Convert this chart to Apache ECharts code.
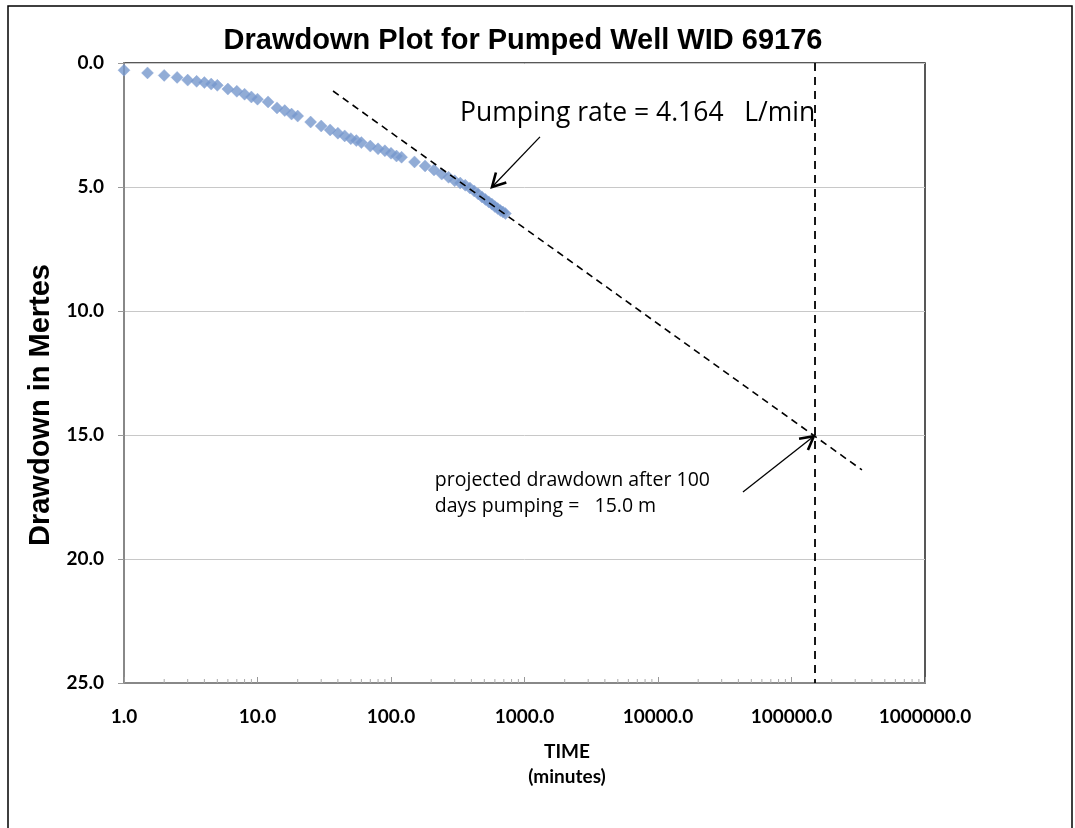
<!DOCTYPE html>
<html>
<head>
<meta charset="utf-8">
<script src="https://cdn.jsdelivr.net/npm/echarts@6/dist/echarts.min.js"></script>
<style>
  html, body { margin: 0; padding: 0; background: #fff; }
  #chart { width: 1075px; height: 828px; }
</style>
</head>
<body>
<div id="chart"></div>
<script>
// time since pumping started (minutes)
const times = [1, 1.5, 2, 2.5, 3, 3.5, 4, 4.5, 5, 6, 7, 8, 9, 10, 12, 14, 16, 18, 20, 25, 30, 35, 40, 45, 50, 55, 60,
  70, 80, 90, 100, 110, 120, 150, 180, 210, 240, 270, 300, 330, 360, 390, 420, 450, 480, 510, 540, 570, 600,
  630, 660, 690, 720]
// drawdown (m)
const drawdown = [0.29, 0.40, 0.50, 0.58, 0.69, 0.74, 0.79, 0.85, 0.90, 1.05, 1.14, 1.26, 1.37, 1.46, 1.57, 1.81,
  1.92, 2.06, 2.14, 2.38, 2.54, 2.70, 2.83, 2.94, 3.05, 3.13, 3.21, 3.35, 3.46, 3.54, 3.64, 3.75, 3.80, 3.99,
  4.15, 4.31, 4.48, 4.61, 4.75, 4.84, 4.93, 5.04, 5.16, 5.28, 5.40, 5.50, 5.60, 5.69, 5.79, 5.87, 5.95, 6.01, 6.07]

// straight-line fit (time, drawdown) at both ends
const trendLine = [[36.8, 1.13], [337000, 16.41]]
// 100 days of pumping
const projectionTime = 150000

// arrows: [fromTime, fromDrawdown, toTime, toDrawdown]
const arrows = [
  [1306, 2.98, 571, 5.0],
  [43300, 17.3, 147000, 15.05]
]
// notes: [time, drawdown, text, fontSize]
const notes = [
  [329, 2.02, 'Pumping rate = 4.164   L/min', 26.5],
  [213, 16.3, 'projected drawdown after 100\ndays pumping =   15.0 m', 19.5]
]

// log minor ticks 2..9 in every decade
const decades = [1, 10, 100, 1000, 10000, 100000]
const minorSteps = [2, 3, 4, 5, 6, 7, 8, 9]
const minorTicks = []
decades.forEach(d => minorSteps.forEach(s => minorTicks.push([d * s, 25])))

const chart = echarts.init(document.getElementById('chart'))

const labelFont = { color: '#000', fontWeight: 'bold', fontSize: 19, fontFamily: 'Lato' }

const option = {
  animation: false,
  backgroundColor: '#fff',
  grid: {
    left: 124, right: 150, top: 63, bottom: 145,
    show: true, borderColor: '#222', borderWidth: 1.5, backgroundColor: 'transparent'
  },
  xAxis: {
    type: 'log', logBase: 10, min: 1, max: 1000000, interval: 1,
    axisLine: { onZero: false, lineStyle: { color: '#888', width: 2 } },
    axisTick: { inside: true, length: 6, lineStyle: { color: '#999' } },
    splitLine: { show: false },
    axisLabel: { ...labelFont, margin: 24, formatter: v => Number(v).toFixed(1) }
  },
  yAxis: {
    type: 'value', inverse: true, min: 0, max: 25, interval: 5,
    axisLine: { lineStyle: { color: '#888', width: 2 } },
    axisTick: { length: 6, lineStyle: { color: '#999' } },
    splitLine: { lineStyle: { color: '#c8c8c8', width: 1 } },
    axisLabel: { ...labelFont, margin: 20, formatter: v => Number(v).toFixed(1) }
  },
  graphic: [
    {
      type: 'rect', shape: { x: 8, y: 6, width: 1064, height: 860 },
      style: { stroke: '#000', lineWidth: 1.5, fill: null }, silent: true
    },
    {
      type: 'text', x: 523, y: 41,
      style: {
        text: 'Drawdown Plot for Pumped Well WID 69176', fill: '#000',
        font: 'bold 29px "Liberation Sans"', textAlign: 'center', textVerticalAlign: 'middle'
      }
    },
    {
      // y axis title sits lower than the plot middle in the original
      type: 'text', x: 41, y: 405, rotation: Math.PI / 2,
      style: {
        text: 'Drawdown in Mertes', fill: '#000',
        font: 'bold 29px "Liberation Sans"', textAlign: 'center', textVerticalAlign: 'middle'
      }
    },
    {
      type: 'text', x: 567, y: 764,
      style: {
        text: 'TIME\n(minutes)', fill: '#000', lineHeight: 25,
        font: 'bold 19px Lato', textAlign: 'center', textVerticalAlign: 'middle'
      }
    }
  ],
  series: [
    {
      name: 'minor ticks',
      type: 'custom',
      silent: true,
      data: minorTicks,
      renderItem: (params, api) => {
        const p = api.coord([api.value(0), api.value(1)])
        return {
          type: 'line',
          shape: { x1: p[0], y1: p[1], x2: p[0], y2: p[1] - 4 },
          style: { stroke: '#aaa', lineWidth: 1 }
        }
      }
    },
    {
      name: 'projection',
      type: 'line',
      data: [[projectionTime, 0], [projectionTime, 25]],
      showSymbol: false,
      lineStyle: { color: '#000', width: 1.8, type: [8, 6] },
      z: 3
    },
    {
      name: 'trend',
      type: 'line',
      data: trendLine,
      showSymbol: false,
      lineStyle: { color: '#000', width: 1.6, type: [7, 5] },
      z: 4
    },
    {
      name: 'Drawdown',
      type: 'scatter',
      data: times.map((t, i) => [t, drawdown[i]]),
      symbol: 'diamond',
      symbolSize: 12,
      itemStyle: { color: '#7597cc', borderColor: '#8aa6d6', borderWidth: 0.5 },
      z: 3
    },
    {
      name: 'arrows',
      type: 'custom',
      silent: true,
      clip: false,
      encode: { x: [0, 2], y: [1, 3] },
      data: arrows,
      renderItem: (params, api) => {
        const p1 = api.coord([api.value(0), api.value(1)])
        const p2 = api.coord([api.value(2), api.value(3)])
        const ang = Math.atan2(p2[1] - p1[1], p2[0] - p1[0])
        const len = 15, spread = 0.5
        const h1 = [p2[0] - len * Math.cos(ang - spread), p2[1] - len * Math.sin(ang - spread)]
        const h2 = [p2[0] - len * Math.cos(ang + spread), p2[1] - len * Math.sin(ang + spread)]
        return {
          type: 'group',
          children: [
            { type: 'line', shape: { x1: p1[0], y1: p1[1], x2: p2[0], y2: p2[1] }, style: { stroke: '#000', lineWidth: 1.3 } },
            { type: 'polyline', shape: { points: [h1, p2, h2] }, style: { stroke: '#000', lineWidth: 2.6, fill: null } }
          ]
        }
      },
      z: 5
    },
    {
      name: 'notes',
      type: 'custom',
      silent: true,
      clip: false,
      data: notes,
      renderItem: (params, api) => {
        const n = notes[params.dataIndex]
        const p = api.coord([n[0], n[1]])
        const multi = n[2].indexOf('\n') >= 0
        return {
          type: 'text',
          x: p[0], y: p[1],
          style: {
            text: n[2], fill: '#000', font: n[3] + 'px "Open Sans"',
            lineHeight: multi ? 26 : undefined,
            textAlign: 'left', textVerticalAlign: multi ? 'top' : 'middle'
          }
        }
      },
      z: 5
    }
  ]
}

chart.setOption(option)
</script>
</body>
</html>
